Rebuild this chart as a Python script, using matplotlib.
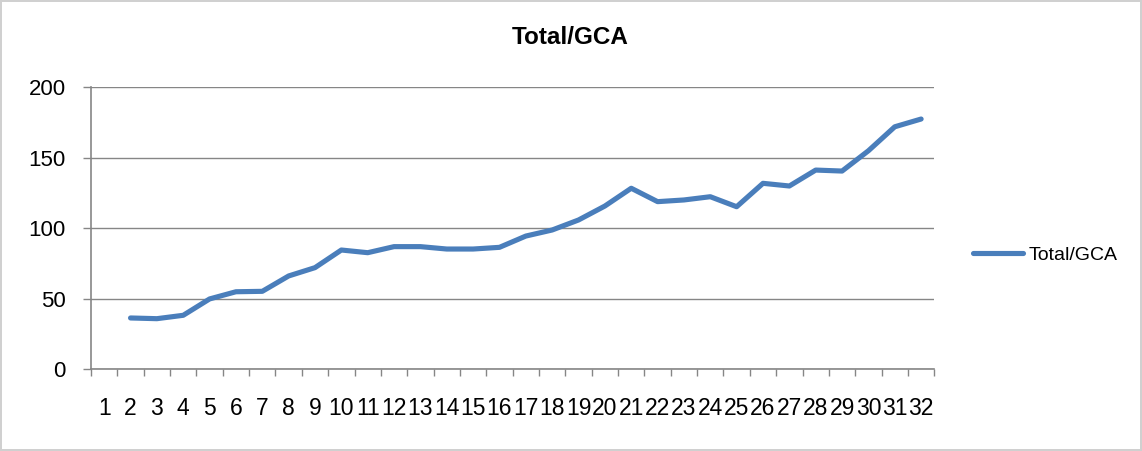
import numpy as np
import matplotlib
matplotlib.use("Agg")
import matplotlib.pyplot as plt
from matplotlib.ticker import FixedLocator, NullFormatter, FixedFormatter

plt.rcParams['font.family'] = ['Liberation Sans', 'DejaVu Sans']

categories = [str(i) for i in range(1, 33)]
values = [np.nan, 36.4, 35.9, 38.3, 49.9, 55.0, 55.3, 66.2, 72.1, 84.6,
          82.7, 87.0, 87.0, 85.3, 85.3, 86.5, 94.5, 98.8, 105.9, 115.8,
          128.4, 118.9, 120.1, 122.4, 115.3, 131.9, 130.0, 141.3, 140.6, 155.0,
          172.0, 177.5]
series_name = "Total/GCA"
yticks = [0, 50, 100, 150, 200]

W, H = 1142, 451
fig = plt.figure(figsize=(W / 100, H / 100), dpi=100)
fig.patch.set_facecolor('white')
fig.patch.set_edgecolor('#d0d0d0')
fig.patch.set_linewidth(1.5)

ax = fig.add_axes([91 / W, 1 - 369.3 / H, (934.3 - 91) / W, (369.3 - 87.3) / H])
x = np.arange(1, len(categories) + 1)
line, = ax.plot(x, values, color='#4a7ebb', lw=3.7, solid_capstyle='round',
                solid_joinstyle='round', label=series_name, zorder=3)

ax.set_xlim(0.5, len(categories) + 0.5)
ax.set_ylim(0, 200)
ax.set_yticks(yticks)
ax.yaxis.grid(True, color='#868686', lw=1.0)
ax.set_axisbelow(True)

ax.xaxis.set_major_locator(FixedLocator(np.arange(0.5, len(categories) + 1, 1.0)))
ax.xaxis.set_major_formatter(NullFormatter())
ax.xaxis.set_minor_locator(FixedLocator(x))
ax.xaxis.set_minor_formatter(FixedFormatter(categories))
ax.tick_params(axis='x', which='major', length=5, width=1, color='#868686', direction='out')
ax.tick_params(axis='x', which='minor', length=0, labelsize=16.5, pad=20)
ax.tick_params(axis='y', length=6, width=1, color='#868686', direction='out',
               labelsize=16, pad=12)

for s in ['top', 'right']:
    ax.spines[s].set_visible(False)
for s in ['left', 'bottom']:
    ax.spines[s].set_color('#868686')
    ax.spines[s].set_linewidth(1.2)

fig.text(570 / W, 1 - 37 / H, "Total/GCA", ha='center', va='center',
         fontsize=17.5, fontweight='bold')

fig.legend(handles=[line], loc='center left', bbox_to_anchor=(972.7 / W, 1 - 255.3 / H),
           frameon=False, fontsize=14, handlelength=2.6, handletextpad=0.3,
           borderpad=0, borderaxespad=0)

fig.savefig("out.png", dpi=100)
